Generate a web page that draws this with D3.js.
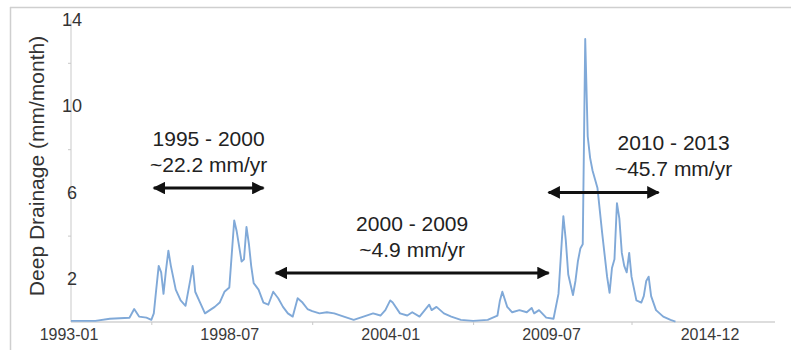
<!DOCTYPE html>
<html>
<head>
<meta charset="utf-8">
<script src="https://cdn.jsdelivr.net/npm/d3@7"></script>
<style>
  html, body { margin: 0; padding: 0; background: #fff; }
  svg { display: block; font-family: Arial, "Liberation Sans", Helvetica, sans-serif; }
</style>
</head>
<body>
<svg id="chart" width="791" height="350"></svg>
<script>
// ---- data (monthly deep drainage, mm/month) ----
const dates = [
  "1993-01","1993-11","1994-05","1995-01","1995-03","1995-05","1995-08","1995-10","1995-11","1995-12",
  "1996-01","1996-02","1996-03","1996-04","1996-05","1996-06","1996-08","1996-10","1996-12","1997-02",
  "1997-03","1997-04","1997-06","1997-08","1997-10","1997-12","1998-02","1998-04","1998-06","1998-08",
  "1998-09","1998-11","1998-12","1999-01","1999-02","1999-03","1999-04","1999-06","1999-08","1999-10",
  "1999-12","2000-02","2000-04","2000-06","2000-08","2000-10","2000-12","2001-02","2001-04","2001-07",
  "2001-10","2002-01","2002-05","2002-09","2003-01","2003-05","2003-08","2003-10","2003-12","2004-01",
  "2004-04","2004-07","2004-09","2004-12","2005-04","2005-05","2005-07","2005-10","2006-01","2006-05",
  "2006-10","2007-04","2007-08","2007-09","2007-10","2007-12","2008-02","2008-05","2008-08","2008-10",
  "2008-11","2009-01","2009-04","2009-07","2009-09","2009-11","2009-12","2010-01","2010-03","2010-04",
  "2010-05","2010-06","2010-07","2010-08","2010-09","2010-10","2010-11","2011-01","2011-03","2011-05",
  "2011-06","2011-07","2011-08","2011-09","2011-10","2011-11","2011-12","2012-01","2012-02","2012-03",
  "2012-05","2012-07","2012-08","2012-09","2012-10","2012-11","2013-01","2013-04","2013-07","2013-09"
];
const drainage = [
  0.05,0.05,0.15,0.2,0.6,0.25,0.2,0.1,0.4,1.5,
  2.6,2.3,1.3,2.4,3.3,2.6,1.5,1.0,0.75,2.0,
  2.6,1.4,0.9,0.4,0.55,0.7,0.9,1.4,1.6,4.7,
  4.2,2.8,2.9,4.4,3.6,2.6,1.8,1.5,0.9,0.8,
  1.4,1.1,0.7,0.4,0.25,1.1,0.9,0.6,0.5,0.4,
  0.45,0.4,0.25,0.1,0.25,0.4,0.3,0.55,1.0,0.9,
  0.4,0.3,0.45,0.25,0.8,0.55,0.7,0.4,0.25,0.1,
  0.05,0.1,0.3,1.0,1.4,0.7,0.45,0.55,0.45,0.65,
  0.4,0.55,0.2,0.15,1.3,4.9,3.8,2.2,1.25,1.9,
  2.8,3.4,3.6,13.1,8.6,7.6,7.0,6.2,4.1,2.1,
  1.35,2.5,2.9,5.5,4.8,3.2,2.6,2.3,3.2,2.1,
  1.0,0.9,1.2,1.9,2.1,1.2,0.55,0.25,0.1,0.02
];
const xTickLabels = ["1993-01","1998-07","2004-01","2009-07","2014-12"];
const xMinorTicks = ["1995-10","2001-04","2006-10","2012-03"];
const yTickLabels = [2, 6, 10, 14];
const yMinorTicks = [4, 8, 12];

// period annotations
const periodLabels = ["1995 - 2000", "2000 - 2009", "2010 - 2013"];
const rateLabels   = ["~22.2 mm/yr", "~4.9 mm/yr", "~45.7 mm/yr"];
const arrowStart   = ["1995-11", "2000-01", "2009-05"];
const arrowEnd     = ["1999-08", "2009-05", "2013-02"];
const arrowLevel   = [6.2, 2.27, 6.0];

// ---- layout ----
const parse = d3.timeParse("%Y-%m");
const svg = d3.select("#chart");

const x = d3.scaleTime()
  .domain([parse(xTickLabels[0]), parse(xTickLabels[xTickLabels.length - 1])])
  .range([71, 712]);
const xEnd = x.invert(775);
x.domain([parse(xTickLabels[0]), xEnd]).range([71, 775]);

const y = d3.scaleLinear().domain([0, 14]).range([322, 19.6]);

// frame
svg.append("line").attr("x1", 10).attr("x2", 791).attr("y1", 7.5).attr("y2", 7.5)
  .attr("stroke", "#cfcfcf").attr("stroke-width", 1.5);
svg.append("line").attr("x1", 10.5).attr("x2", 10.5).attr("y1", 7).attr("y2", 350)
  .attr("stroke", "#cfcfcf").attr("stroke-width", 1.5);

const axisColor = "#d2d2d2";

// y axis
const yAxis = d3.axisLeft(y)
  .tickValues(yMinorTicks)
  .tickSize(3)
  .tickFormat("");
const gy = svg.append("g").attr("transform", "translate(71,0)").call(yAxis);
gy.select(".domain").attr("stroke", axisColor).attr("stroke-width", 1.2).attr("d", `M0,${y(14)}V${y(0)}`);
gy.selectAll(".tick line").attr("stroke", "#c8c8c8");

// y tick labels centered on the axis line
svg.append("g").selectAll("text").data(yTickLabels).join("text")
  .attr("x", 72)
  .attr("y", d => y(d))
  .attr("dy", "0.36em")
  .attr("text-anchor", "middle")
  .attr("font-size", 18)
  .attr("fill", "#333")
  .text(d => d);

// x axis
const xAxis = d3.axisBottom(x)
  .tickValues(xMinorTicks.map(parse))
  .tickSize(3)
  .tickFormat("");
const gx = svg.append("g").attr("transform", `translate(0,${y(0)})`).call(xAxis);
gx.select(".domain").attr("stroke", axisColor).attr("stroke-width", 1.5).attr("d", `M71,0H775`);
gx.selectAll(".tick line").attr("stroke", "#c8c8c8");

svg.append("g").selectAll("text").data(xTickLabels).join("text")
  .attr("x", d => x(parse(d)) - 2)
  .attr("y", 340)
  .attr("text-anchor", "middle")
  .attr("font-size", 16)
  .attr("fill", "#3a3a3a")
  .text(d => d);

// y axis title
svg.append("text")
  .attr("transform", "translate(44,166) rotate(-90)")
  .attr("text-anchor", "middle")
  .attr("font-size", 21)
  .attr("fill", "#333")
  .text("Deep Drainage (mm/month)");

// series line
const series = dates.map((d, i) => ({ date: parse(d), value: drainage[i] }));
svg.append("path")
  .datum(series)
  .attr("fill", "none")
  .attr("stroke", "#80a9d8")
  .attr("stroke-width", 1.9)
  .attr("stroke-linejoin", "round")
  .attr("d", d3.line().x(d => x(d.date)).y(d => y(d.value)));

// arrow markers
const defs = svg.append("defs");
defs.append("marker").attr("id", "ah-end")
  .attr("viewBox", "0 0 10 10").attr("refX", 9).attr("refY", 5)
  .attr("markerWidth", 4.4).attr("markerHeight", 4.2).attr("markerUnits", "strokeWidth")
  .attr("orient", "auto")
  .append("path").attr("d", "M0,0L10,5L0,10Z").attr("fill", "#111");
defs.append("marker").attr("id", "ah-start")
  .attr("viewBox", "0 0 10 10").attr("refX", 1).attr("refY", 5)
  .attr("markerWidth", 4.4).attr("markerHeight", 4.2).attr("markerUnits", "strokeWidth")
  .attr("orient", "auto")
  .append("path").attr("d", "M10,0L0,5L10,10Z").attr("fill", "#111");

const textShift = [0, 0, 70];
const ann = svg.append("g");
periodLabels.forEach((lab, i) => {
  const x1 = x(parse(arrowStart[i])), x2 = x(parse(arrowEnd[i]));
  const ay = y(arrowLevel[i]);
  ann.append("line")
    .attr("x1", x1).attr("x2", x2).attr("y1", ay).attr("y2", ay)
    .attr("stroke", "#111").attr("stroke-width", 3)
    .attr("marker-start", "url(#ah-start)")
    .attr("marker-end", "url(#ah-end)");
  const cx = (x1 + x2) / 2 + textShift[i];
  ann.append("text").attr("x", cx).attr("y", ay - 42)
    .attr("text-anchor", "middle").attr("font-size", 21).attr("fill", "#222")
    .text(lab);
  ann.append("text").attr("x", cx).attr("y", ay - 16)
    .attr("text-anchor", "middle").attr("font-size", 21).attr("fill", "#222")
    .text(rateLabels[i]);
});
</script>
</body>
</html>
